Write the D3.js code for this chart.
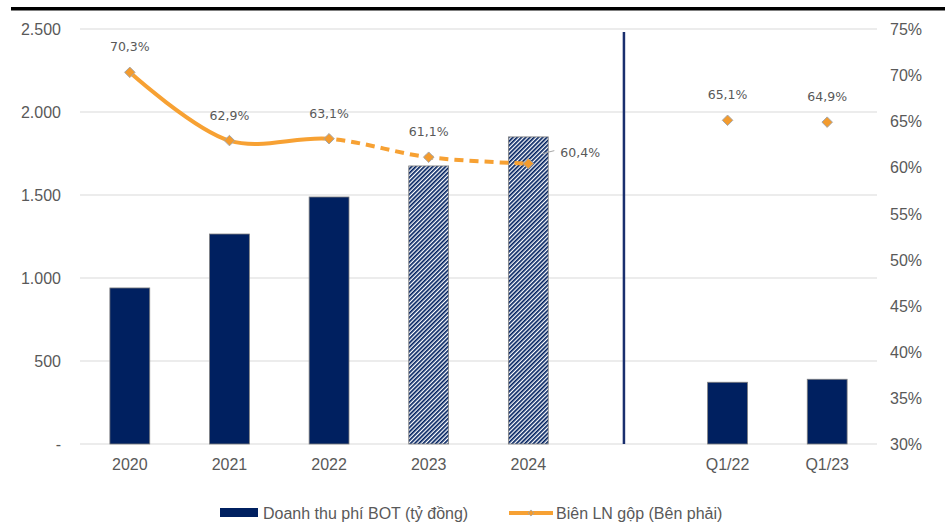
<!DOCTYPE html>
<html>
<head>
<meta charset="utf-8">
<script src="https://cdn.jsdelivr.net/npm/d3@7"></script>
<style>
  html, body { margin: 0; padding: 0; background: #fff; }
  svg { display: block; }
</style>
</head>
<body>
<svg id="chart" width="952" height="525"></svg>
<script>
// ---- data ----
const categories = ["2020", "2021", "2022", "2023", "2024", "", "Q1/22", "Q1/23"];
const revenue = [940, 1265, 1488, 1675, 1850, null, 372, 390];
const margin = [70.3, 62.9, 63.1, 61.1, 60.4, null, 65.1, 64.9];
const forecast = [false, false, false, true, true, false, false, false];
const leftTicks = [0, 500, 1000, 1500, 2000, 2500];
const rightTicks = [30, 35, 40, 45, 50, 55, 60, 65, 70, 75];
const legendLabels = ["Doanh thu phí BOT (tỷ đồng)", "Biên LN gộp (Bên phải)"];

const svg = d3.select("#chart");
const L = 80, R = 877, T = 29, B = 444;
const navy = "#002060", orange = "#F7A133", grid = "#d9d9d9", txt = "#595959";
const font = "'Liberation Sans', Arial, sans-serif";
const lblFont = "'DejaVu Sans', Tahoma, sans-serif";
const fs = 16;

const idx = categories.map((d, i) => i);
const x = d3.scaleBand().domain(idx).range([L, R]).paddingInner(0.6).paddingOuter(0.3);
const cx = i => x(i) + x.bandwidth() / 2;
const yL = d3.scaleLinear().domain([0, 2500]).range([B, T]);
const yR = d3.scaleLinear().domain([30, 75]).range([B, T]);

// defs
const defs = svg.append("defs");
const pat = defs.append("pattern").attr("id", "hatch").attr("patternUnits", "userSpaceOnUse")
  .attr("width", 3).attr("height", 3).attr("patternTransform", "rotate(45)");
pat.append("rect").attr("width", 3).attr("height", 3).attr("fill", "#fff");
pat.append("rect").attr("width", 1.7).attr("height", 3).attr("fill", navy);

// top rule
svg.append("rect").attr("x", 11).attr("y", 7).attr("width", 934).attr("height", 3.5).attr("fill", "#000");

// gridlines
svg.append("g").selectAll("line").data(leftTicks).join("line")
  .attr("x1", L).attr("x2", R).attr("y1", d => yL(d)).attr("y2", d => yL(d))
  .attr("stroke", grid).attr("stroke-width", 1);

// left axis
const axL = d3.axisLeft(yL).tickValues(leftTicks).tickSize(0).tickPadding(0)
  .tickFormat(d => d === 0 ? "-" : d3.format(",")(d).replace(/,/g, "."));
const gL = svg.append("g").attr("transform", `translate(61,0)`).call(axL);
gL.select(".domain").remove();
gL.selectAll("text").attr("font-family", font).attr("font-size", fs).attr("fill", txt).attr("dy", "0.35em");

// right axis
const axR = d3.axisRight(yR).tickValues(rightTicks).tickSize(0).tickPadding(0).tickFormat(d => d + "%");
const gR = svg.append("g").attr("transform", `translate(890,0)`).call(axR);
gR.select(".domain").remove();
gR.selectAll("text").attr("font-family", font).attr("font-size", fs).attr("fill", txt).attr("dy", "0.35em");

// x axis
const axX = d3.axisBottom(x).tickSize(0).tickPadding(0).tickFormat(i => categories[i]);
const gX = svg.append("g").attr("transform", `translate(0,${B + 26})`).call(axX);
gX.select(".domain").remove();
gX.selectAll("text").attr("font-family", font).attr("font-size", fs).attr("fill", txt).attr("dy", "0");

// bars
const barData = idx.filter(i => revenue[i] != null);
svg.append("g").selectAll("rect").data(barData).join("rect")
  .attr("x", i => x(i)).attr("width", x.bandwidth())
  .attr("y", i => yL(revenue[i])).attr("height", i => B - yL(revenue[i]))
  .attr("fill", i => forecast[i] ? "url(#hatch)" : navy)
  .attr("stroke", "#7f7f7f").attr("stroke-width", 0.8);

// separator line
const sep = idx.find(i => categories[i] === "");
svg.append("line").attr("x1", cx(sep) - 4).attr("x2", cx(sep) - 4)
  .attr("y1", 32).attr("y2", B).attr("stroke", "#1a2f6e").attr("stroke-width", 2.5);

// margin line (annual)
const annual = idx.filter(i => i < sep);
const lineGen = d3.line().x(i => cx(i)).y(i => yR(margin[i])).curve(d3.curveCatmullRom.alpha(0.5));
const splitX = cx(2);
defs.append("clipPath").attr("id", "clipSolid").append("rect")
  .attr("x", 0).attr("y", 0).attr("width", splitX).attr("height", 525);
defs.append("clipPath").attr("id", "clipDash").append("rect")
  .attr("x", splitX).attr("y", 0).attr("width", 952 - splitX).attr("height", 525);
svg.append("path").attr("d", lineGen(annual)).attr("fill", "none").attr("stroke", orange)
  .attr("stroke-width", 4).attr("clip-path", "url(#clipSolid)");
svg.append("path").attr("d", lineGen(annual.filter(i => i >= 1))).attr("fill", "none").attr("stroke", orange)
  .attr("stroke-width", 4).attr("stroke-dasharray", "9,6").attr("stroke-dashoffset", -2)
  .attr("clip-path", "url(#clipDash)");

// markers
const ptData = idx.filter(i => margin[i] != null);
const diamond = d3.symbol().type(d3.symbolDiamond2).size(70);
svg.append("g").selectAll("path").data(ptData).join("path")
  .attr("d", diamond)
  .attr("transform", i => `translate(${cx(i)},${yR(margin[i])})`)
  .attr("fill", "#F39B2E").attr("stroke", "#a6a6a6").attr("stroke-width", 1);

// data labels
const fmtPct = v => v.toFixed(1).replace(".", ",") + "%";
svg.append("g").selectAll("text").data(ptData).join("text")
  .attr("x", i => i === 4 ? cx(i) + 32 : cx(i))
  .attr("y", i => i === 4 ? yR(margin[i]) - 7 : yR(margin[i]) - 21)
  .attr("text-anchor", i => i === 4 ? "start" : "middle")
  .attr("font-family", lblFont).attr("font-size", 12.5).attr("fill", txt)
  .text(i => fmtPct(margin[i]));
// leader line for 2024 label
svg.append("line").attr("x1", cx(4) + 14).attr("y1", yR(margin[4]) - 10)
  .attr("x2", cx(4) + 26).attr("y2", yR(margin[4]) - 13)
  .attr("stroke", "#a6a6a6").attr("stroke-width", 1);

// legend
const lg = svg.append("g");
lg.append("rect").attr("x", 220).attr("y", 508).attr("width", 38).attr("height", 9).attr("fill", navy);
lg.append("text").attr("x", 263).attr("y", 519).attr("font-family", font).attr("font-size", fs)
  .attr("fill", txt).text(legendLabels[0]);
lg.append("line").attr("x1", 509).attr("x2", 553).attr("y1", 513).attr("y2", 513)
  .attr("stroke", orange).attr("stroke-width", 4);
lg.append("path").attr("d", d3.symbol().type(d3.symbolDiamond2).size(24))
  .attr("transform", "translate(531,513)").attr("fill", "#F39B2E").attr("stroke", "#a6a6a6").attr("stroke-width", 0.8);
lg.append("text").attr("x", 556).attr("y", 519).attr("font-family", font).attr("font-size", fs)
  .attr("fill", txt).text(legendLabels[1]);
</script>
</body>
</html>
